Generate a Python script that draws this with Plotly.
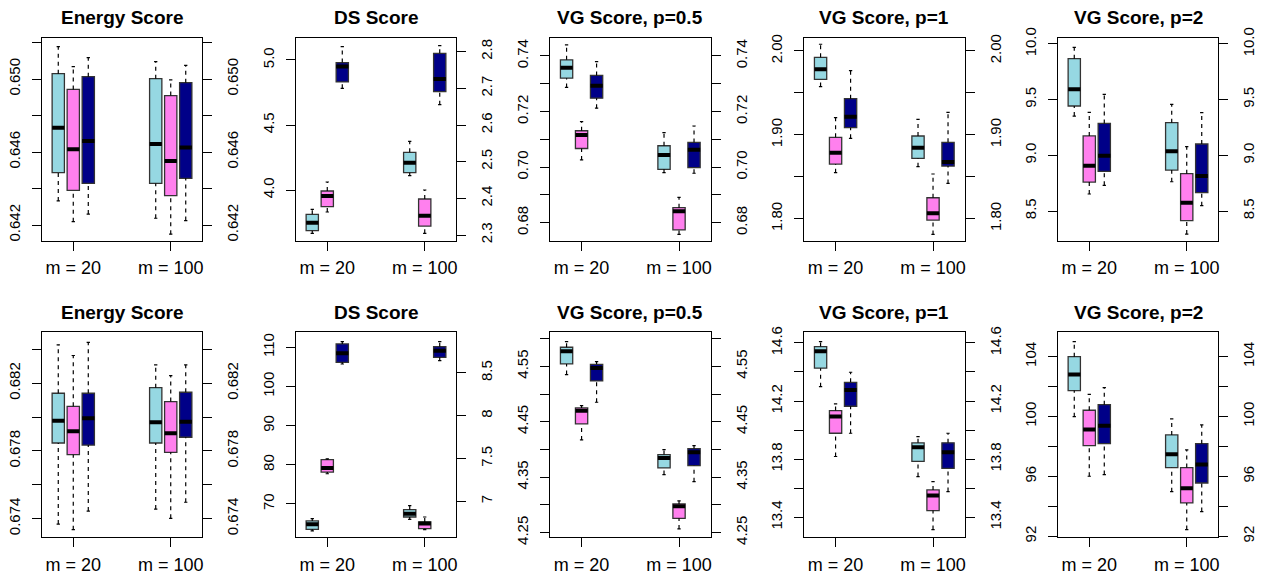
import plotly.graph_objects as go

# ---------------- data ----------------
categories = ["m = 20", "m = 100"]
cat_pos = [1, 2]
methods = ["Method A", "Method B", "Method C"]
colors = ["#96D8E2", "#FF80EE", "#000088"]

# five-number summaries per box: [lower whisker, Q1, median, Q3, upper whisker]
# order: m=20 (A, B, C), m=100 (A, B, C)
energy_top = [
    [0.64332, 0.64487, 0.64733, 0.65029, 0.65177],
    [0.64218, 0.64390, 0.64615, 0.64943, 0.65068],
    [0.64260, 0.64428, 0.64660, 0.65013, 0.65117],
    [0.64237, 0.64428, 0.64644, 0.65002, 0.65095],
    [0.64150, 0.64361, 0.64551, 0.64909, 0.64995],
    [0.64224, 0.64456, 0.64624, 0.64980, 0.65075],
]
ds_top = [
    [2.3045, 2.3118, 2.3336, 2.3564, 2.3700],
    [2.3627, 2.3773, 2.4064, 2.4200, 2.4445],
    [4.782, 4.831, 4.949, 4.980, 5.103],
    [2.4618, 2.4700, 2.4973, 2.5255, 2.5555],
    [2.3045, 2.3245, 2.3527, 2.3982, 2.4227],
    [4.656, 4.756, 4.854, 5.051, 5.110],
]
vg05_top = [
    [0.7287, 0.7320, 0.7358, 0.7386, 0.7440],
    [0.7026, 0.7067, 0.7116, 0.7131, 0.7164],
    [0.7212, 0.7248, 0.7293, 0.7330, 0.7380],
    [0.6980, 0.6992, 0.7044, 0.7077, 0.7124],
    [0.6758, 0.6774, 0.6841, 0.6854, 0.6891],
    [0.6978, 0.6998, 0.7063, 0.7089, 0.7148],
]
vg1_top = [
    [1.9575, 1.9662, 1.9781, 1.9924, 2.0080],
    [1.8549, 1.8652, 1.8787, 1.8970, 1.9205],
    [1.8958, 1.9085, 1.9217, 1.9431, 1.9765],
    [1.8620, 1.8720, 1.8847, 1.8986, 1.9185],
    [1.7813, 1.7984, 1.8064, 1.8250, 1.8533],
    [1.8421, 1.8628, 1.8676, 1.8911, 1.9268],
]
vg2_top = [
    [9.353, 9.443, 9.593, 9.868, 9.970],
    [8.653, 8.760, 8.907, 9.174, 9.386],
    [8.731, 8.856, 8.997, 9.287, 9.548],
    [8.763, 8.868, 9.036, 9.293, 9.458],
    [8.293, 8.413, 8.575, 8.835, 9.078],
    [8.548, 8.665, 8.814, 9.102, 9.383],
]
energy_bot = [
    [0.67368, 0.67847, 0.67979, 0.68141, 0.68427],
    [0.67335, 0.67778, 0.67916, 0.68064, 0.68364],
    [0.67445, 0.67835, 0.67993, 0.68141, 0.68442],
    [0.67457, 0.67847, 0.67969, 0.68174, 0.68308],
    [0.67402, 0.67792, 0.67904, 0.68092, 0.68245],
    [0.67497, 0.67881, 0.67973, 0.68147, 0.68308],
]
ds_bot = [
    [6.654, 6.673, 6.732, 6.771, 6.798],
    [7.322, 7.342, 7.389, 7.486, 7.497],
    [105.74, 106.17, 108.47, 110.85, 111.45],
    [6.790, 6.817, 6.856, 6.903, 6.951],
    [6.670, 6.681, 6.740, 6.759, 6.817],
    [106.60, 107.45, 109.15, 110.17, 111.45],
]
vg05_bot = [
    [4.5350, 4.5542, 4.5771, 4.5843, 4.5945],
    [4.4171, 4.4460, 4.4700, 4.4748, 4.4790],
    [4.4851, 4.5235, 4.5470, 4.5536, 4.5584],
    [4.3546, 4.3666, 4.3846, 4.3907, 4.3997],
    [4.2566, 4.2758, 4.2974, 4.3017, 4.3071],
    [4.3419, 4.3708, 4.3949, 4.4015, 4.4069],
]
vg1_bot = [
    [14.299, 14.426, 14.543, 14.575, 14.609],
    [13.818, 13.978, 14.093, 14.134, 14.180],
    [13.978, 14.164, 14.276, 14.329, 14.398],
    [13.680, 13.785, 13.882, 13.912, 13.955],
    [13.315, 13.446, 13.549, 13.588, 13.645],
    [13.577, 13.737, 13.847, 13.912, 13.978],
]
vg2_bot = [
    [99.99, 101.73, 102.80, 104.00, 105.00],
    [96.01, 98.06, 99.13, 100.42, 101.48],
    [96.12, 98.19, 99.39, 100.79, 101.93],
    [94.98, 96.59, 97.48, 98.77, 99.84],
    [92.45, 94.23, 95.21, 96.59, 97.77],
    [93.65, 95.56, 96.79, 98.19, 99.44],
]

titles = ["Energy Score", "DS Score", "VG Score, p=0.5", "VG Score, p=1", "VG Score, p=2"] * 2

# y-axis tick values and labels (left, right)
ticks_left = [
    ([0.642, 0.644, 0.646, 0.648, 0.650, 0.652], ["0.642", "", "0.646", "", "0.650", ""]),
    ([4.0, 4.5, 5.0], ["4.0", "4.5", "5.0"]),
    ([0.68, 0.69, 0.70, 0.71, 0.72, 0.73, 0.74], ["0.68", "", "0.70", "", "0.72", "", "0.74"]),
    ([1.80, 1.85, 1.90, 1.95, 2.00], ["1.80", "", "1.90", "", "2.00"]),
    ([8.5, 9.0, 9.5, 10.0], ["8.5", "9.0", "9.5", "10.0"]),
    ([0.674, 0.676, 0.678, 0.680, 0.682, 0.684], ["0.674", "", "0.678", "", "0.682", ""]),
    ([70, 80, 90, 100, 110], ["70", "80", "90", "100", "110"]),
    ([4.25, 4.30, 4.35, 4.40, 4.45, 4.50, 4.55, 4.60], ["4.25", "", "4.35", "", "4.45", "", "4.55", ""]),
    ([13.4, 13.6, 13.8, 14.0, 14.2, 14.4, 14.6], ["13.4", "", "13.8", "", "14.2", "", "14.6"]),
    ([92, 94, 96, 98, 100, 102, 104], ["92", "", "96", "", "100", "", "104"]),
]
ticks_right_ds = {
    1: ([2.3, 2.4, 2.5, 2.6, 2.7, 2.8], ["2.3", "2.4", "2.5", "2.6", "2.7", "2.8"]),
    6: ([7.0, 7.5, 8.0, 8.5], ["7", "7.5", "8", "8.5"]),
}

panels = [energy_top, ds_top, vg05_top, vg1_top, vg2_top,
          energy_bot, ds_bot, vg05_bot, vg1_bot, vg2_bot]

# ---------------- layout geometry ----------------
W, H = 1265, 578
col_left = [41.7, 295.7, 550.0, 804.0, 1057.7]
plot_w = 160.6
row_top = [(38.3, 240.7), (332.3, 537.3)]
y_left_range = [
    [0.64114, 0.65223], [3.6103, 5.1667], [0.67353, 0.74636], [1.7738, 2.0151], [8.2335, 10.051],
    [0.67290, 0.68501], [61.49, 113.83], [4.2415, 4.6113], [13.262, 14.673], [91.934, 105.625],
]
y_right_range_ds = {1: [2.2845, 2.8364], 6: [6.580, 8.974]}
x_range = [0.676, 2.324]
offsets = [-0.154, 0.0, 0.154]
box_w = 0.126
staple = 0.017

FONT = "Liberation Sans, Arial, Helvetica, sans-serif"

fig = go.Figure()
layout = dict(
    width=W, height=H,
    margin=dict(l=0, r=0, t=0, b=0, pad=0, autoexpand=False),
    paper_bgcolor="white", plot_bgcolor="white",
    showlegend=False,
    font=dict(family=FONT, color="black"),
)
annotations = []

for i, stats in enumerate(panels):
    row, col = divmod(i, 5)
    xa = "x" if i == 0 else f"x{i+1}"
    ya = "y" if i == 0 else f"y{i+1}"
    yb = f"y{i+11}"
    L = col_left[col]
    top, bot = row_top[row]
    xdom = [L / W, (L + plot_w) / W]
    ydom = [1 - bot / H, 1 - top / H]

    layout["xaxis" if i == 0 else f"xaxis{i+1}"] = dict(
        domain=xdom, anchor=ya, range=x_range,
        tickmode="array", tickvals=cat_pos, ticktext=categories,
        ticks="outside", ticklen=9, tickwidth=1, tickcolor="black",
        showline=True, mirror=True, linecolor="black", linewidth=1,
        showgrid=False, zeroline=False, automargin=False,
        tickfont=dict(size=18, family=FONT), ticklabelstandoff=2,
        fixedrange=True,
    )
    tv, tt = ticks_left[i]
    layout["yaxis" if i == 0 else f"yaxis{i+1}"] = dict(
        domain=ydom, anchor=xa, range=y_left_range[i],
        tickmode="array", tickvals=tv, ticktext=tt,
        ticks="outside", ticklen=9, tickwidth=1, tickcolor="black",
        tickangle=-90, tickfont=dict(size=15, family=FONT),
        showline=True, mirror=True, linecolor="black", linewidth=1,
        showgrid=False, zeroline=False, ticklabelstandoff=6, automargin=False,
        fixedrange=True,
    )
    if i in ticks_right_ds:
        rtv, rtt = ticks_right_ds[i]
        rrange = y_right_range_ds[i]
    else:
        rtv, rtt = tv, tt
        rrange = y_left_range[i]
    layout[f"yaxis{i+11}"] = dict(
        overlaying=ya, anchor=xa, side="right", range=rrange,
        tickmode="array", tickvals=rtv, ticktext=rtt,
        ticks="outside", ticklen=9, tickwidth=1, tickcolor="black",
        tickangle=-90, tickfont=dict(size=15, family=FONT),
        showline=False, showgrid=False, zeroline=False, ticklabelstandoff=8,
        automargin=False, fixedrange=True,
    )
    # keep right axis registered
    fig.add_trace(go.Scatter(x=[], y=[], xaxis=xa, yaxis=yb, showlegend=False, hoverinfo="skip"))

    for m in range(3):
        yaxis_m = ya
        if i in ticks_right_ds and m in (0, 1):
            yaxis_m = yb
        xs, lo, q1, med, q3, hi = [], [], [], [], [], []
        for c in range(2):
            s = stats[c * 3 + m]
            xs.append(cat_pos[c] + offsets[m])
            lo.append(s[0]); q1.append(s[1]); med.append(s[2]); q3.append(s[3]); hi.append(s[4])
        wx, wy, sx, sy, mx, my = [], [], [], [], [], []
        for k in range(2):
            wx += [xs[k], xs[k], None, xs[k], xs[k], None]
            wy += [q3[k], hi[k], None, lo[k], q1[k], None]
            sx += [xs[k] - staple, xs[k] + staple, None, xs[k] - staple, xs[k] + staple, None]
            sy += [hi[k], hi[k], None, lo[k], lo[k], None]
            mx += [xs[k] - box_w / 2, xs[k] + box_w / 2, None]
            my += [med[k], med[k], None]
        fig.add_trace(go.Scatter(x=wx, y=wy, mode="lines", xaxis=xa, yaxis=yaxis_m,
                                 line=dict(color="black", width=1.2, dash="4px,4px"),
                                 hoverinfo="skip", showlegend=False))
        fig.add_trace(go.Scatter(x=sx, y=sy, mode="lines", xaxis=xa, yaxis=yaxis_m,
                                 line=dict(color="black", width=1.2),
                                 hoverinfo="skip", showlegend=False))
        fig.add_trace(go.Box(
            x=xs, q1=q1, median=med, q3=q3, lowerfence=q1, upperfence=q3,
            width=box_w, whiskerwidth=0, boxpoints=False,
            fillcolor=colors[m], line=dict(color="#333333", width=1.3),
            xaxis=xa, yaxis=yaxis_m, name=methods[m], showlegend=False, hoverinfo="skip",
        ))
        fig.add_trace(go.Scatter(x=mx, y=my, mode="lines", xaxis=xa, yaxis=yaxis_m,
                                 line=dict(color="black", width=4),
                                 hoverinfo="skip", showlegend=False))

    title_y = 17 if row == 0 else 312
    annotations.append(dict(
        text=f"<b>{titles[i]}</b>", xref="paper", yref="paper",
        x=(L + plot_w / 2) / W, y=1 - title_y / H, xanchor="center", yanchor="middle",
        showarrow=False, font=dict(size=19, family=FONT, color="black"),
    ))

layout["annotations"] = annotations
fig.update_layout(**layout)
# remove the browser's default 8px page margin so the figure fills the window exactly
fig.write_html(
    "out.html",
    config={"displayModeBar": False, "staticPlot": True},
    post_script="document.body.style.margin='0';document.body.style.overflow='hidden';",
)
